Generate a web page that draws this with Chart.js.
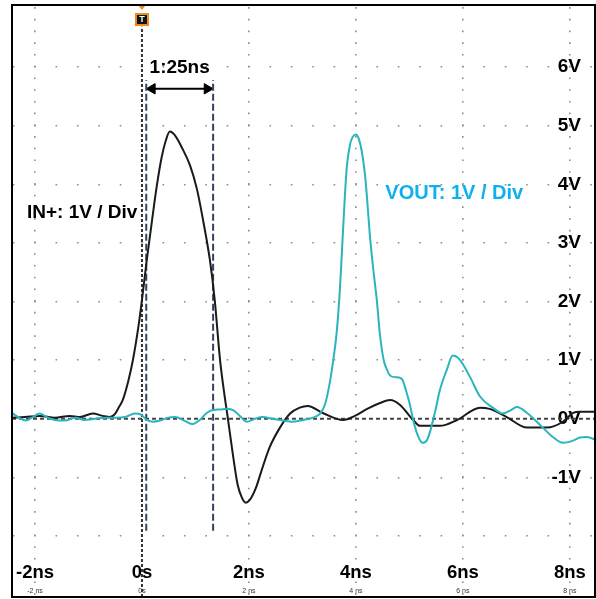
<!DOCTYPE html>
<html>
<head>
<meta charset="utf-8">
<script src="https://cdn.jsdelivr.net/npm/chart.js@4.4.1/dist/chart.umd.min.js"></script>
<style>
  html, body { margin: 0; padding: 0; background: #fff; }
  canvas { display: block; }
</style>
</head>
<body>
<canvas id="miGraficoOsc" width="596" height="599"></canvas>
<script>
// Rangos de la pantalla del osciloscopio
const rangoTiempo = [-2.43, 8.47];   // ns
const rangoTension = [-3.04, 7.06];  // V

const ticksTiempo = [-2, 0, 2, 4, 6, 8];
const etiquetasTiempo = ['-2ns', '0s', '2ns', '4ns', '6ns', '8ns'];
const etiquetasTiempoChicas = ['-2 ns', '0s', '2 ns', '4 ns', '6 ns', '8 ns'];
const ticksTension = [-3, -2, -1, 0, 1, 2, 3, 4, 5, 6, 7];
const etiquetasTension = ['', '', '-1V', '0V', '1V', '2V', '3V', '4V', '5V', '6V', ''];

// IN+ (traza negra)
const tiempoEntrada = [-2.43, -2.19, -1.91, -1.63, -1.35, -1.16, -0.92, -0.73, -0.6, -0.5, -0.43, -0.36, -0.26, -0.17, -0.07,
  0, 0.09, 0.19, 0.28, 0.37, 0.45, 0.52, 0.62, 0.75, 0.9, 1.03, 1.14, 1.27, 1.36, 1.46, 1.53, 1.61, 1.7, 1.79, 1.87,
  1.94, 2.02, 2.13, 2.24, 2.39, 2.58, 2.77, 2.95, 3.1, 3.38, 3.76, 3.98, 4.21, 4.45, 4.64, 4.82, 5.07, 5.2, 5.57,
  5.89, 6.32, 6.5, 6.82, 7.2, 7.57, 7.87, 8.06, 8.19, 8.49];
const tensionEntrada = [0.02, 0.03, 0.05, 0.02, 0.05, 0.03, 0.09, 0.05, 0.03, 0.09, 0.2, 0.32, 0.63, 1.0, 1.55,
  2.03, 2.71, 3.4, 3.99, 4.47, 4.76, 4.9, 4.83, 4.62, 4.32, 3.91, 3.4, 2.71, 2.03, 1.0, 0.49, -0.02, -0.61, -1.13, -1.35,
  -1.43, -1.38, -1.18, -0.87, -0.48, -0.15, 0.09, 0.19, 0.22, 0.1, -0.02, 0.05, 0.17, 0.27, 0.32, 0.24, -0.02, -0.12, -0.12,
  -0.02, 0.19, 0.17, 0.03, -0.15, -0.15, -0.05, 0.1, 0.12, 0.12];

// VOUT (traza cian)
const tiempoSalida = [-2.43, -2.3, -2.17, -2.04, -1.91, -1.78, -1.63, -1.44, -1.25, -1.07, -0.88, -0.69, -0.5, -0.32, -0.13,
  -0.02, 0.09, 0.21, 0.34, 0.49, 0.62, 0.79, 0.95, 1.08, 1.21, 1.33, 1.46, 1.59, 1.72, 1.85, 1.96, 2.11, 2.26, 2.43,
  2.64, 2.8, 3.01, 3.2, 3.33, 3.42, 3.51, 3.59, 3.64, 3.7, 3.74, 3.79, 3.83, 3.89, 3.94, 4.0, 4.06, 4.11, 4.17, 4.21,
  4.26, 4.32, 4.39, 4.45, 4.52, 4.58, 4.65, 4.75, 4.86, 4.95, 5.01, 5.07, 5.16, 5.25, 5.33, 5.38, 5.48, 5.57, 5.7,
  5.81, 5.94, 6.13, 6.32, 6.56, 6.75, 6.88, 7.01, 7.2, 7.44, 7.68, 7.87, 8.04, 8.19, 8.32, 8.49];
const tensionSalida = [0.1, 0.02, -0.03, 0.03, 0.09, 0.03, -0.02, -0.03, 0.02, -0.02, 0, 0.02, 0.02, 0.03, 0.09,
  0.07, -0.02, -0.05, -0.03, 0.02, 0.03, -0.03, -0.09, -0.02, 0.1, 0.15, 0.16, 0.17, 0.14, 0.03, -0.05, 0, 0.03, 0,
  -0.03, -0.05, -0.02, 0.02, 0.09, 0.24, 0.61, 1.09, 1.47, 2.2, 2.88, 3.74, 4.3, 4.68, 4.81, 4.85, 4.76, 4.56, 4.16, 3.74,
  3.14, 2.59, 2.03, 1.43, 1.0, 0.84, 0.73, 0.71, 0.68, 0.44, 0.24, -0.02, -0.29, -0.41, -0.36, -0.24, 0.12, 0.49, 0.84,
  1.08, 1.01, 0.72, 0.38, 0.19, 0.09, 0.14, 0.2, 0.1, -0.1, -0.31, -0.41, -0.38, -0.32, -0.31, -0.36];

// Cursores, flecha y línea de disparo
const cursores = [0.08, 1.33];
const cursorTension = [-1.91, 5.78];
const flechaTension = 5.63;
const disparoTension = [-3.04, 6.69];

const fuente = 'Arial, "Liberation Sans", sans-serif';

const sinEspacio = (scale) => {
    if (scale.isHorizontal()) scale.height = 0; else scale.width = 0;
    scale.paddingLeft = 0; scale.paddingRight = 0;
    scale.paddingTop = 0; scale.paddingBottom = 0;
};

const unir = (xs, ys) => xs.map((t, i) => ({ x: t, y: ys[i] }));

// Textos, marcador de disparo y marco
const decoracion = {
    id: 'decoracion',
    afterDatasetsDraw(chart) {
        const { ctx, chartArea, scales: { x, y } } = chart;
        ctx.save();
        ctx.textBaseline = 'middle';

        ctx.fillStyle = '#000';
        ctx.textAlign = 'center';
        ctx.font = 'bold 19px ' + fuente;
        ctx.fillText('1:25ns', x.getPixelForValue((cursores[0] + cursores[1]) / 2), y.getPixelForValue(5.99));

        ctx.textAlign = 'left';
        ctx.fillText('IN+: 1V / Div', x.getPixelForValue(-2.15), y.getPixelForValue(3.52));

        ctx.fillStyle = '#0fb0ee';
        ctx.font = 'bold 20px ' + fuente;
        ctx.fillText('VOUT: 1V / Div', x.getPixelForValue(4.55), y.getPixelForValue(3.84));

        // marcador "T"
        const px = x.getPixelForValue(0);
        ctx.fillStyle = '#f08a1c';
        ctx.beginPath();
        ctx.moveTo(px - 4, chartArea.top);
        ctx.lineTo(px + 4, chartArea.top);
        ctx.lineTo(px, chartArea.top + 5);
        ctx.closePath();
        ctx.fill();
        ctx.fillRect(px - 7, 13, 14, 13);
        ctx.fillStyle = '#111';
        ctx.fillRect(px - 5, 15, 10, 9);
        ctx.fillStyle = '#fff';
        ctx.textAlign = 'center';
        ctx.font = 'bold 9px ' + fuente;
        ctx.fillText('T', px, 20);

        // marco
        ctx.strokeStyle = '#000';
        ctx.lineWidth = 2;
        ctx.strokeRect(chartArea.left, chartArea.top, chartArea.right - chartArea.left, chartArea.bottom - chartArea.top);
        ctx.restore();
    }
};

const lineaFija = (datos, color, ancho, trazo) => ({
    data: datos,
    borderColor: color,
    borderWidth: ancho,
    borderDash: trazo,
    pointRadius: 0,
    tension: 0
});

new Chart(document.getElementById('miGraficoOsc').getContext('2d'), {
    type: 'line',
    data: {
        datasets: [
            {
                label: 'VOUT',
                data: unir(tiempoSalida, tensionSalida),
                borderColor: '#2ab5bd',
                borderWidth: 2,
                pointRadius: 0,
                cubicInterpolationMode: 'monotone'
            },
            {
                label: 'IN+',
                data: unir(tiempoEntrada, tensionEntrada),
                borderColor: '#1a1a1a',
                borderWidth: 2,
                pointRadius: 0,
                cubicInterpolationMode: 'monotone'
            },
            lineaFija([{ x: rangoTiempo[0], y: 0 }, { x: rangoTiempo[1], y: 0 }], '#444', 2, [4, 3]),
            lineaFija([{ x: 0, y: disparoTension[0] }, { x: 0, y: disparoTension[1] }], '#333', 2, [3, 2]),
            lineaFija(cursorTension.map(v => ({ x: cursores[0], y: v })), '#34425e', 2, [7, 3]),
            lineaFija(cursorTension.map(v => ({ x: cursores[1], y: v })), '#34425e', 2, [7, 3]),
            {
                data: [{ x: cursores[0] + 0.11, y: flechaTension }, { x: cursores[1] - 0.11, y: flechaTension }],
                borderColor: '#000',
                borderWidth: 2,
                pointStyle: 'triangle',
                pointRadius: 6,
                pointRotation: [-90, 90],
                pointBackgroundColor: '#000',
                pointBorderColor: '#000',
                pointBorderWidth: 1
            }
        ]
    },
    options: {
        responsive: false,
        animation: false,
        layout: { autoPadding: false, padding: { left: 12, top: 5, right: 1, bottom: 2 } },
        plugins: { legend: { display: false }, tooltip: { enabled: false } },
        scales: {
            x: {
                type: 'linear',
                position: 'bottom',
                min: rangoTiempo[0],
                max: rangoTiempo[1],
                afterBuildTicks: s => { s.ticks = ticksTiempo.map(v => ({ value: v })); },
                afterFit: sinEspacio,
                border: { display: false, dash: [1.6, 10.12], dashOffset: 9.6 },
                grid: {
                    drawTicks: false,
                    lineWidth: 1.6,
                    color: c => (c.tick && c.tick.value === 0) ? 'rgba(0,0,0,0)' : '#8c8c8c'
                },
                ticks: {
                    mirror: true,
                    padding: 13,
                    autoSkip: false,
                    maxRotation: 0,
                    color: '#000',
                    font: { family: fuente, size: 18.5, weight: 'bold' },
                    callback: (v, i) => etiquetasTiempo[i]
                }
            },
            x2: {
                type: 'linear',
                position: 'bottom',
                min: rangoTiempo[0],
                max: rangoTiempo[1],
                afterBuildTicks: s => { s.ticks = ticksTiempo.map(v => ({ value: v })); },
                afterFit: sinEspacio,
                border: { display: false },
                grid: { display: false, drawTicks: false },
                ticks: {
                    mirror: true,
                    padding: 2,
                    autoSkip: false,
                    maxRotation: 0,
                    color: '#333',
                    font: { family: fuente, size: 7 },
                    callback: (v, i) => etiquetasTiempoChicas[i]
                }
            },
            y: {
                type: 'linear',
                position: 'right',
                min: rangoTension[0],
                max: rangoTension[1],
                afterBuildTicks: s => { s.ticks = ticksTension.map(v => ({ value: v })); },
                afterFit: sinEspacio,
                border: { display: false, dash: [1.6, 19.79], dashOffset: 20.6 },
                grid: {
                    drawTicks: false,
                    lineWidth: 1.6,
                    color: c => (c.tick && [0, -3, 7].includes(c.tick.value)) ? 'rgba(0,0,0,0)' : '#8c8c8c'
                },
                ticks: {
                    mirror: true,
                    padding: -14,
                    autoSkip: false,
                    color: '#000',
                    font: { family: fuente, size: 19, weight: 'bold' },
                    callback: (v, i) => etiquetasTension[i]
                }
            }
        }
    },
    plugins: [decoracion]
});
</script>
</body>
</html>
